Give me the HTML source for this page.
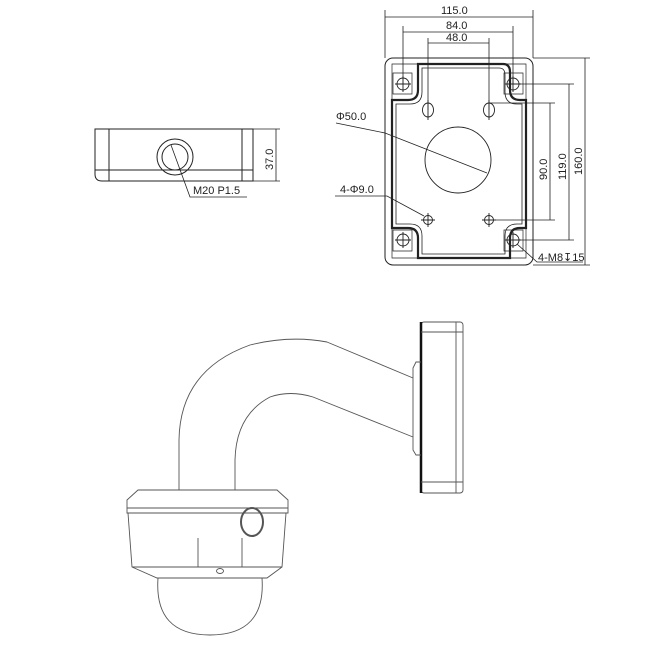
<!DOCTYPE html>
<html><head><style>html,body{margin:0;padding:0;background:#fff}svg{display:block}</style></head><body>
<svg width="650" height="650" viewBox="0 0 650 650" xmlns="http://www.w3.org/2000/svg" font-family="Liberation Sans, sans-serif" fill="none" stroke="#222" stroke-width="1">
<!-- side view -->
<path d="M95 129 H253 V181 H102 Q95 181 95 174 Z"/>
<line x1="95" y1="170" x2="253" y2="170"/>
<line x1="109" y1="129" x2="109" y2="181"/>
<line x1="242" y1="129" x2="242" y2="181"/>
<path d="M253 129 H280 M253 181 H280 M276 129 V181" stroke-width="0.8"/>
<circle cx="175" cy="157" r="18"/>
<circle cx="175" cy="157" r="13"/>
<path d="M171 145 L190 197 H247" stroke-width="0.8"/>
<text x="193" y="194" font-size="11" fill="#222" stroke="none">M20 P1.5</text>
<text x="0" y="0" font-size="11" fill="#222" stroke="none" transform="translate(273,170) rotate(-90)">37.0</text>
<!-- top view -->
<rect x="385" y="58" width="148" height="207" rx="8"/>
<path d="M392 64 H526 V258 H392 Z" stroke-width="0.7"/>
<path d="M418 64 H503 Q510 64 510 72 V90 Q510 100 520 100 H526 V228 H520 Q510 228 510 238 V258 H418 V238 Q418 228 408 228 H392 V100 H408 Q418 100 418 90 Z" stroke-width="2.2"/>
<path d="M422 68 H499 Q505 68 505 75 V92 Q505 104 517 104 H522 V224 H517 Q505 224 505 236 V254 H422 V236 Q422 224 410 224 H396 V104 H410 Q422 104 422 92 Z" stroke-width="0.8"/>
<g stroke-width="0.9">
<path d="M393 73 H412 V94 H393 Z M504 73 H523 V94 H504 Z M393 230 H412 V251 H393 Z M504 230 H523 V251 H504 Z" stroke-width="0.7"/>
<circle cx="403" cy="84" r="6"/><circle cx="513" cy="84" r="6"/><circle cx="403" cy="240" r="6"/><circle cx="513" cy="240" r="6"/>
<path d="M395 84 H411 M403 76 V92 M505 84 H521 M513 76 V92 M395 240 H411 M403 232 V248 M505 240 H521 M513 232 V248"/>
<ellipse cx="428" cy="110" rx="5.5" ry="7"/><ellipse cx="489" cy="110" rx="5.5" ry="7"/>
<circle cx="428" cy="220" r="4.5"/><circle cx="489" cy="220" r="4.5"/>
<path d="M428 100 V120 M489 100 V120 M421 220 H435 M428 213 V227 M482 220 H496 M489 213 V227"/>
<circle cx="458" cy="160" r="33"/>
</g>
<g stroke-width="0.8">
<path d="M385 58 V10 M533 58 V10 M385 17 H533 M403 84 V26 M513 84 V26 M403 32 H513 M428 110 V38 M489 110 V38 M428 43 H489"/>
<path d="M489 103 H555 M550 103 V220 M489 220 H555 M513 84 H574 M569 84 V240 M513 240 H574 M533 58 H590 M585 58 V265 M533 265 H590"/>
<path d="M336 123 L385 133 L487 173 M335 196 H387 L424 216 M517 244 L537 262 H583"/>
</g>
<g fill="#222" stroke="none" font-size="11">
<text x="441" y="14">115.0</text><text x="446" y="29">84.0</text><text x="446" y="41">48.0</text>
<text x="336" y="120">Φ50.0</text><text x="340" y="193">4-Φ9.0</text><text x="538" y="261">4-M8↧15</text>
<text transform="translate(547,180) rotate(-90)">90.0</text>
<text transform="translate(566,180) rotate(-90)">119.0</text>
<text transform="translate(582,175) rotate(-90)">160.0</text>
</g>
<!-- perspective -->
<g stroke="#555" stroke-width="0.9">
<rect x="421" y="322" width="42" height="171" rx="3"/>
<line x1="421" y1="322" x2="421" y2="493" stroke="#111" stroke-width="2.5"/>
<path d="M421 332 H463 M421 482 H463 M456 322 V493"/>
<path d="M421 362 H416 L413 368 V450 L416 455 H421"/>
<path d="M413 378 L327 342 Q290 335 250 345 Q180 370 179 440 V490"/>
<path d="M413 437 L313 397 Q290 390 270 397 Q236 415 235 460 V490"/>
<path d="M138 490 H277 L288 500 V513 H127 V500 Z"/>
<line x1="127" y1="508" x2="288" y2="508"/>
<path d="M128 513 L132 567 L157 578 H267 L282 567 L286 513"/>
<path d="M132 567 H282"/>
<ellipse cx="252" cy="522" rx="11" ry="14" stroke-width="2"/>
<path d="M198 538 V567 M242 538 V567"/>
<ellipse cx="220" cy="571" rx="3.5" ry="2.5"/>
<path d="M158 578 Q154 635 210 635 Q266 635 262 578"/>
</g>
</svg>
</body></html>
